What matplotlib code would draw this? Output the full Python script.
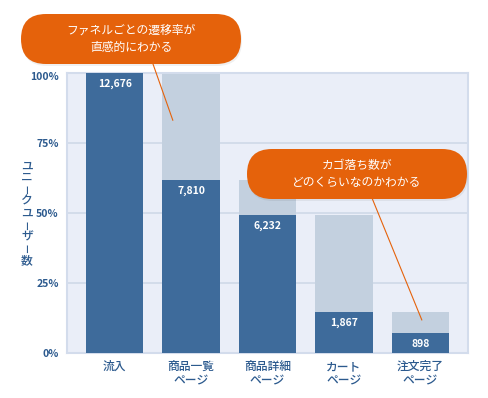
import matplotlib
matplotlib.use("Agg")
import matplotlib.pyplot as plt
from matplotlib.patches import FancyBboxPatch

plt.rcParams['font.family'] = ['Noto Sans CJK JP', 'DejaVu Sans']

# データ
stages = ["流入", "商品一覧\nページ", "商品詳細\nページ", "カート\nページ", "注文完了\nページ"]
users = [12676, 7810, 6232, 1867, 898]
y_ticks = [0, 0.25, 0.5, 0.75, 1.0]
y_tick_labels = ["0%", "25%", "50%", "75%", "100%"]
y_label = "ユニークユーザー数"
note1 = "ファネルごとの遷移率が\n直感的にわかる"
note2 = "カゴ落ち数が\nどのくらいなのかわかる"

DARK = "#3e6b9b"
LIGHT = "#c3d0df"
BG = "#eaeef8"
GRID = "#cfd9e8"
TXT = "#2c5a8e"
ORANGE = "#e5620b"

W, H = 488, 398
fig = plt.figure(figsize=(W / 100, H / 100), dpi=100)
fig.patch.set_facecolor("white")

ax = fig.add_axes([67 / W, 1 - 353 / H, 401 / W, 280.5 / H])
ax.set_facecolor(BG)

total = users[0]
ratio = [u / total for u in users]
prev = [ratio[0]] + ratio[:-1]
x = list(range(len(stages)))

ax.bar(x, prev, width=0.75, color=LIGHT, zorder=2)
ax.bar(x, ratio, width=0.75, color=DARK, zorder=3)

for xi, r, u in zip(x, ratio, users):
    ax.annotate(f"{u:,}", (xi, r), xytext=(0, -11), textcoords="offset pixels",
                ha="center", va="center", color="white", fontsize=7.5,
                fontweight="bold", zorder=4)

ax.set_xlim(-0.625, 4.625)
ax.set_ylim(0, 1.0)
ax.set_yticks(y_ticks)
ax.set_yticklabels(y_tick_labels)
ax.set_xticks(x)
ax.set_xticklabels(stages, linespacing=1.15)
ax.tick_params(axis="both", length=0, colors=TXT)
ax.tick_params(axis="y", pad=6, labelsize=7.5)
ax.tick_params(axis="x", pad=5, labelsize=8.5)
for lbl in ax.get_yticklabels():
    lbl.set_fontweight("bold")
for lbl in ax.get_xticklabels():
    lbl.set_fontweight("medium")
ax.get_yticklabels()[-1].set_va("top")
ax.grid(axis="y", color=GRID, lw=1.2, zorder=1)
for s in ax.spines.values():
    s.set_color("#d3dcec")
    s.set_linewidth(1.5)

# 縦書きの軸ラベル（長音記号は縦向きに回転）
step = 11.8
y0 = 213 - step * (len(y_label) - 1) / 2
for i, ch in enumerate(y_label):
    if ch == "ー":
        fig.text(28.5 / W, 1 - (y0 + i * step) / H, ch, ha="center",
                 va="center", color=TXT, fontsize=6.8, fontweight="medium",
                 rotation=90)
    else:
        fig.text(27 / W, 1 - (y0 + i * step) / H, ch, ha="center",
                 va="center", color=TXT, fontsize=8.5, fontweight="medium")

# 吹き出し用のピクセル座標オーバーレイ
ov = fig.add_axes([0, 0, 1, 1], facecolor="none")
ov.set_xlim(0, W)
ov.set_ylim(H, 0)
ov.axis("off")


def to_px(px, py):
    dx, dy = ax.transData.transform((px, py))
    return dx, H - dy


def callout(x0, y0, w, h, text, start, tip):
    shadow = FancyBboxPatch((x0 + 1, y0 + 2), w, h,
                            boxstyle=f"round,pad=0,rounding_size={h / 2}",
                            fc="#000000", ec="none", alpha=0.06, zorder=5)
    ov.add_patch(shadow)
    box = FancyBboxPatch((x0, y0), w, h,
                         boxstyle=f"round,pad=0,rounding_size={h / 2}",
                         fc=ORANGE, ec="none", zorder=6)
    ov.add_patch(box)
    ov.text(x0 + w / 2, y0 + h / 2, text, ha="center", va="center",
            color="white", fontsize=8.5, linespacing=1.4, zorder=7)
    sx = x0 + w * start
    tx, ty = tip
    ov.plot([sx, tx], [y0 + h, ty], color=ORANGE, lw=0.8, zorder=5)


callout(21, 14, 220, 50, note1, 0.6, to_px(0.76, 0.83))
callout(247, 149, 220, 50, note2, 0.57, to_px(4.02, 0.118))

fig.savefig("out.png", dpi=100)
